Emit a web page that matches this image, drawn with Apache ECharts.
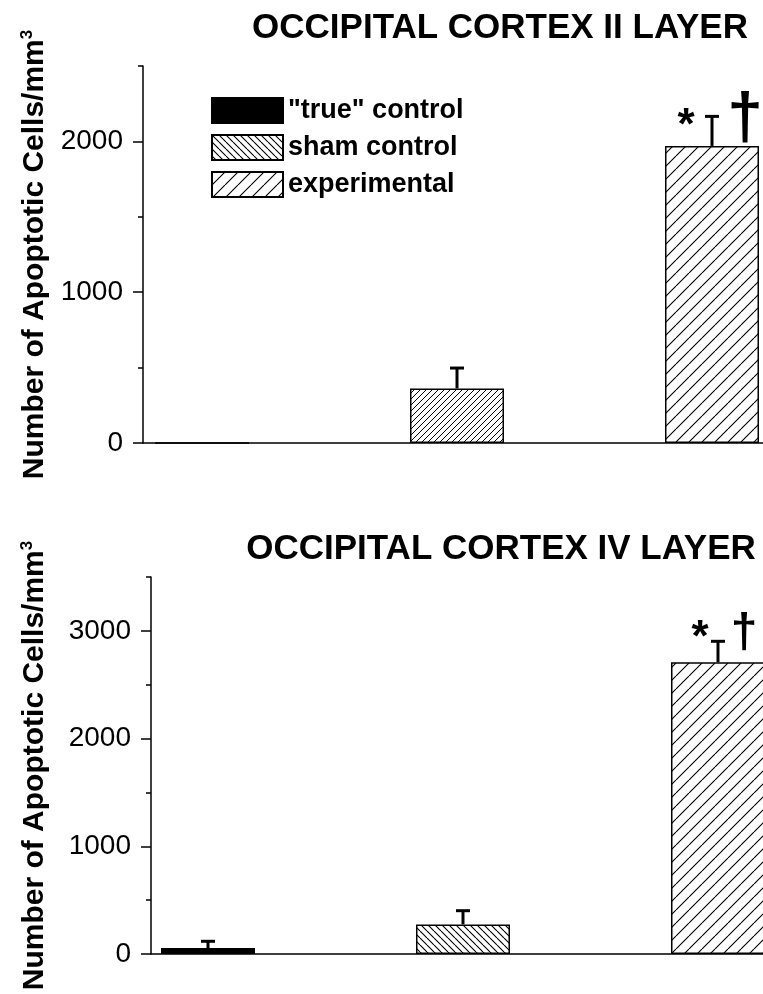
<!DOCTYPE html>
<html>
<head>
<meta charset="utf-8">
<script src="https://cdn.jsdelivr.net/npm/echarts@6/dist/echarts.min.js"></script>
<style>
html,body{margin:0;padding:0;background:#fff;}
#chart{width:763px;height:994px;}
</style>
</head>
<body>
<div id="chart"></div>
<script>
// ---- data ----
const categories = ['"true" control', 'sham control', 'experimental'];
const catX = [1, 2, 3];
const titleTop = 'OCCIPITAL CORTEX II LAYER';
const titleBottom = 'OCCIPITAL CORTEX IV LAYER';
const yName = 'Number of Apoptotic Cells/mm';

const valuesTop = [0, 362, 1970];
const errorsTop = [0, 135, 196];
const valuesBottom = [55, 275, 2708];
const errorsBottom = [63, 127, 195];

const yMaxTop = 2500;
const yMaxBottom = 3500;
const majorTicksTop = [0, 1000, 2000];
const minorTicksTop = [500, 1500, 2500];
const majorTicksBottom = [0, 1000, 2000, 3000];
const minorTicksBottom = [500, 1500, 2500, 3500];

const sigTop = ['*', '†'];
const sigBottom = ['*', '†'];

// ---- styles ----
const FONT = '"Liberation Sans", Arial, Helvetica, sans-serif';

function hatch(step, dir, lw) {
  const c = document.createElement('canvas');
  c.width = step; c.height = step;
  const g = c.getContext('2d');
  g.fillStyle = '#fff'; g.fillRect(0, 0, step, step);
  g.strokeStyle = '#000'; g.lineWidth = lw;
  g.beginPath();
  for (let k = -1; k <= 1; k++) {
    if (dir === '/') { g.moveTo(k * step, step); g.lineTo(k * step + step, 0); }
    else { g.moveTo(k * step, 0); g.lineTo(k * step + step, step); }
  }
  g.stroke();
  return { image: c, repeat: 'repeat' };
}
const patSham = hatch(7, '\\', 1.1);
const patShamTop = hatch(6, '/', 1.0);
const patExp = hatch(13, '/', 1.1);
const fills = ['#000', patSham, patExp];

const chart = echarts.init(document.getElementById('chart'), null, { renderer: 'canvas' });

const grids = [
  { left: 143, top: 66, height: 377, right: 0 },
  { left: 151, top: 577, height: 377, right: 0 }
];
const xRanges = [[0.7686, 3.2], [0.7765, 3.1765]];

function yAxes(gi, max, major, minor, gap) {
  return [
    {
      type: 'value', gridIndex: gi, position: 'left', min: 0, max: max, interval: 500,
      name: yName + '{s|3}', nameLocation: 'middle', nameGap: gap, nameRotate: 90,
      nameTextStyle: {
        color: '#000', fontFamily: FONT, fontWeight: 'bold', fontSize: 30,
        rich: { s: { fontSize: 17, fontWeight: 'bold', fontFamily: FONT, color: '#000', verticalAlign: 'top', padding: [0, 0, 14, 0] } }
      },
      axisLine: { show: true, lineStyle: { color: '#000', width: 1.5 } },
      axisTick: { show: true, inside: false, length: 10, customValues: major, lineStyle: { color: '#000', width: 1.5 } },
      axisLabel: { show: true, customValues: major, margin: 20, color: '#000', fontFamily: FONT, fontSize: 28,
        formatter: function (v) { return String(v); } },
      splitLine: { show: false }
    },
    {
      type: 'value', gridIndex: gi, position: 'left', min: 0, max: max, interval: 500,
      axisLine: { show: false },
      axisTick: { show: true, inside: false, length: 5, customValues: minor, lineStyle: { color: '#000', width: 1.5 } },
      axisLabel: { show: false },
      splitLine: { show: false }
    }
  ];
}

function barSeries(gi, values, topPanel) {
  return categories.map((name, i) => {
    const item = { value: [catX[i], values[i]] };
    if (topPanel && i === 1) item.itemStyle = { color: patShamTop };
    return {
      type: 'bar', name: name, xAxisIndex: gi, yAxisIndex: gi * 2,
      barWidth: 94, barGap: '-100%',
      itemStyle: { color: fills[i], borderColor: '#000', borderWidth: 1.5 },
      data: [item], silent: true, animation: false
    };
  });
}

function errorSeries(gi, values, errors) {
  return {
    type: 'custom', xAxisIndex: gi, yAxisIndex: gi * 2, silent: true, animation: false,
    data: catX.map((x, i) => [x, values[i], values[i] + errors[i]]),
    renderItem: function (params, api) {
      const lo = api.coord([api.value(0), api.value(1)]);
      const hi = api.coord([api.value(0), api.value(2)]);
      if (Math.abs(lo[1] - hi[1]) < 1) return null;
      const st = { stroke: '#000', lineWidth: 3 };
      return {
        type: 'group', children: [
          { type: 'line', shape: { x1: lo[0], y1: lo[1], x2: hi[0], y2: hi[1] }, style: st },
          { type: 'line', shape: { x1: hi[0] - 7, y1: hi[1], x2: hi[0] + 7, y2: hi[1] }, style: st }
        ]
      };
    }
  };
}

function sigSeries(gi, values, errors, marks, cfg) {
  const i = 2;
  return {
    type: 'custom', xAxisIndex: gi, yAxisIndex: gi * 2, silent: true, animation: false,
    data: [[catX[i], values[i] + errors[i]]],
    renderItem: function (params, api) {
      const p = api.coord([api.value(0), api.value(1)]);
      return {
        type: 'group', children: [
          { type: 'text', x: p[0] + cfg.sdx, y: p[1] + cfg.sdy,
            style: { text: marks[0], fill: '#000', font: 'bold ' + cfg.sfs + 'px ' + FONT, textAlign: 'center', textVerticalAlign: 'middle' } },
          { type: 'text', x: p[0] + cfg.ddx, y: p[1] + cfg.ddy,
            style: { text: marks[1], fill: '#000', font: 'bold ' + cfg.dfs + 'px ' + FONT, textAlign: 'center', textVerticalAlign: 'middle' } }
        ]
      };
    }
  };
}

const option = {
  backgroundColor: '#fff',
  animation: false,
  grid: grids,
  graphic: [
    { type: 'text', x: 500, y: 28, style: { text: titleTop, fill: '#000', font: 'bold 35px ' + FONT, textAlign: 'center', textVerticalAlign: 'middle' } },
    { type: 'text', x: 501, y: 549, style: { text: titleBottom, fill: '#000', font: 'bold 35px ' + FONT, textAlign: 'center', textVerticalAlign: 'middle' } }
  ],
  legend: {
    data: categories, orient: 'vertical', left: 206, top: 92,
    itemWidth: 71, itemHeight: 25, itemGap: 10, icon: 'rect',
    selectedMode: false,
    textStyle: { color: '#000', fontFamily: FONT, fontWeight: 'bold', fontSize: 27 }
  },
  xAxis: [0, 1].map(gi => ({
    type: 'value', gridIndex: gi, min: xRanges[gi][0], max: xRanges[gi][1],
    axisLine: { show: true, onZero: false, lineStyle: { color: '#000', width: 1.5 } },
    axisTick: { show: false }, axisLabel: { show: false }, splitLine: { show: false }
  })),
  yAxis: [
    ...yAxes(0, yMaxTop, majorTicksTop, minorTicksTop, 93),
    ...yAxes(1, yMaxBottom, majorTicksBottom, minorTicksBottom, 101)
  ],
  series: [
    ...barSeries(0, valuesTop, true),
    errorSeries(0, valuesTop, errorsTop),
    sigSeries(0, valuesTop, errorsTop, sigTop, { sdx: -26, sdy: 10, sfs: 44, ddx: 33, ddy: 4, dfs: 64 }),
    ...barSeries(1, valuesBottom, false),
    errorSeries(1, valuesBottom, errorsBottom),
    sigSeries(1, valuesBottom, errorsBottom, sigBottom, { sdx: -18, sdy: -2, sfs: 44, ddx: 26, ddy: -8, dfs: 48 })
  ]
};
chart.setOption(option);
</script>
</body>
</html>
